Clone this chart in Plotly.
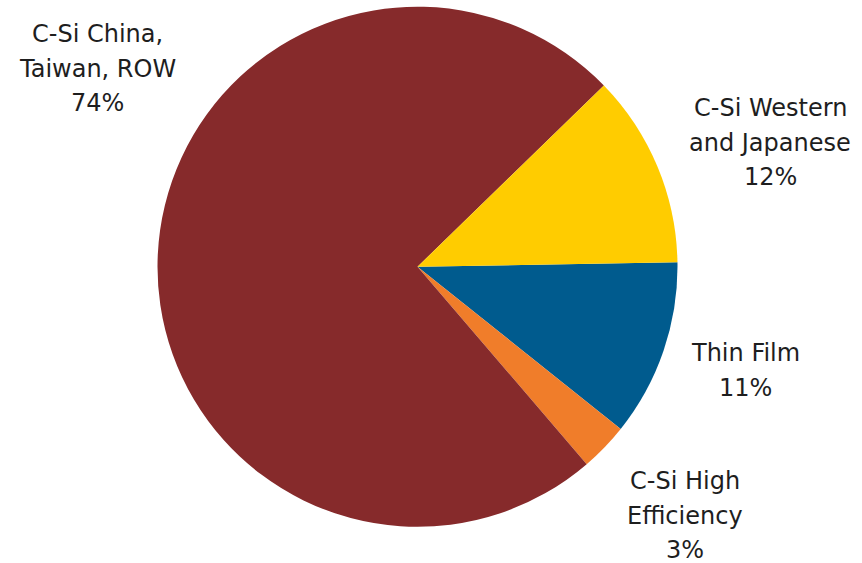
import plotly.graph_objects as go

# Module market share by technology
labels = ["Thin Film", "C-Si High Efficiency", "C-Si China, Taiwan, ROW", "C-Si Western and Japanese"]
shares = [11, 3, 74, 12]
colors = ["#005B8E", "#F07D2A", "#862A2B", "#FFCC00"]

# Text lines for each slice label (the last line is the share)
label_lines = [
    ["Thin Film"],
    ["C-Si High", "Efficiency"],
    ["C-Si China,", "Taiwan, ROW"],
    ["C-Si Western", "and Japanese"],
]
# Label anchor (paper px) for the first line and line pitch
label_pos = [(745, 353), (685, 481), (97, 34), (770, 108)]
line_pitch = 34.5

W, H = 862, 563

fig = go.Figure(
    go.Pie(
        labels=labels,
        values=shares,
        sort=False,
        direction="clockwise",
        rotation=89,
        marker=dict(colors=colors, line=dict(width=0)),
        textinfo="none",
        hoverinfo="label+percent",
        domain=dict(x=[157.5 / W, 677.5 / W], y=[1 - 527 / H, 1 - 6.5 / H]),
        showlegend=False,
    )
)

annotations = []
for lines, share, (x, y) in zip(label_lines, shares, label_pos):
    for i, txt in enumerate(lines + [f"{share}%"]):
        annotations.append(
            dict(
                x=x / W,
                y=1 - (y + i * line_pitch) / H,
                xref="paper",
                yref="paper",
                text=txt,
                showarrow=False,
                xanchor="center",
                yanchor="middle",
                font=dict(family="DejaVu Sans", size=24, color="#1e1e1e"),
            )
        )

fig.update_layout(
    width=W,
    height=H,
    margin=dict(l=0, r=0, t=0, b=0),
    paper_bgcolor="white",
    plot_bgcolor="white",
    annotations=annotations,
)

fig.write_html("out.html")
